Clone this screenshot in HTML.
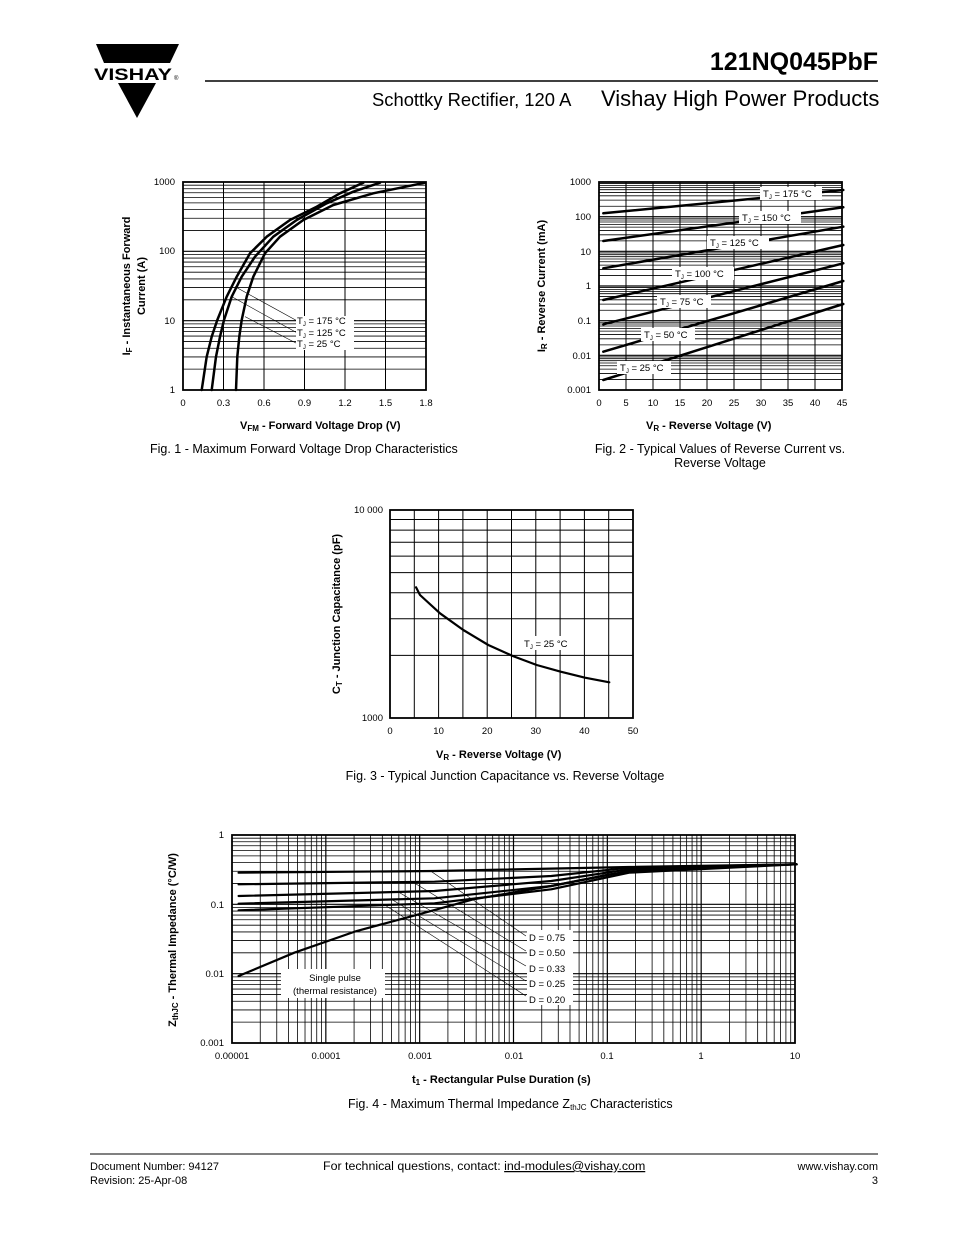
<!DOCTYPE html>
<html><head><meta charset="utf-8"><style>
html,body{margin:0;padding:0;background:#fff;}
svg text{font-family:"Liberation Sans",Arial,sans-serif;fill:#000;}
</style></head><body>
<svg id="s" width="954" height="1235" viewBox="0 0 954 1235" xmlns="http://www.w3.org/2000/svg">
<rect width="954" height="1235" fill="#fff"/>
<!-- Header -->
<polygon points="96,44 179,44 170,63 104,63" fill="#000"/>
<polygon points="118,83 156,83 137,118" fill="#000"/>
<text x="94" y="80" font-size="17" font-weight="bold" textLength="78" lengthAdjust="spacingAndGlyphs">VISHAY</text>
<text x="174" y="80" font-size="6">®</text>
<text x="878" y="70" font-size="25" font-weight="bold" text-anchor="end">121NQ045PbF</text>
<line x1="205" y1="81" x2="878" y2="81" stroke="#000" stroke-width="1.5"/>
<text x="372" y="106" font-size="18.4">Schottky Rectifier, 120 A</text>
<text x="601" y="106" font-size="22">Vishay High Power Products</text>

<g id="g1"></g><g id="g2"></g><g id="g3"></g><g id="g4"></g>

<!-- Fig1 text -->
<g font-size="9.5">
<text x="175" y="185" text-anchor="end">1000</text>
<text x="175" y="254" text-anchor="end">100</text>
<text x="175" y="324" text-anchor="end">10</text>
<text x="175" y="393" text-anchor="end">1</text>
<text x="183" y="406" text-anchor="middle">0</text>
<text x="223.5" y="406" text-anchor="middle">0.3</text>
<text x="264" y="406" text-anchor="middle">0.6</text>
<text x="304.5" y="406" text-anchor="middle">0.9</text>
<text x="345" y="406" text-anchor="middle">1.2</text>
<text x="385.5" y="406" text-anchor="middle">1.5</text>
<text x="426" y="406" text-anchor="middle">1.8</text>
</g>
<g font-size="9.5">
<rect x="296" y="316" width="58" height="34" fill="#fff"/>
<text x="297" y="324">T<tspan font-size="6" dy="2">J</tspan><tspan dy="-2"> = 175 °C</tspan></text>
<text x="297" y="336">T<tspan font-size="6" dy="2">J</tspan><tspan dy="-2"> = 125 °C</tspan></text>
<text x="297" y="347">T<tspan font-size="6" dy="2">J</tspan><tspan dy="-2"> = 25 °C</tspan></text>
</g>
<text x="240" y="429" font-size="11" font-weight="bold">V<tspan font-size="8" dy="2">FM</tspan><tspan dy="-2"> - Forward Voltage Drop (V)</tspan></text>
<text transform="translate(130,286) rotate(-90)" font-size="11" font-weight="bold" text-anchor="middle">I<tspan font-size="8" dy="2">F</tspan><tspan dy="-2"> - Instantaneous Forward</tspan></text>
<text transform="translate(145,286) rotate(-90)" font-size="11" font-weight="bold" text-anchor="middle">Current (A)</text>
<text x="150" y="453" font-size="12.5">Fig. 1 - Maximum Forward Voltage Drop Characteristics</text>

<!-- Fig2 text -->
<g font-size="9.5">
<text x="591" y="185" text-anchor="end">1000</text>
<text x="591" y="220" text-anchor="end">100</text>
<text x="591" y="255" text-anchor="end">10</text>
<text x="591" y="289" text-anchor="end">1</text>
<text x="591" y="324" text-anchor="end">0.1</text>
<text x="591" y="359" text-anchor="end">0.01</text>
<text x="591" y="393" text-anchor="end">0.001</text>
<text x="599" y="406" text-anchor="middle">0</text>
<text x="626" y="406" text-anchor="middle">5</text>
<text x="653" y="406" text-anchor="middle">10</text>
<text x="680" y="406" text-anchor="middle">15</text>
<text x="707" y="406" text-anchor="middle">20</text>
<text x="734" y="406" text-anchor="middle">25</text>
<text x="761" y="406" text-anchor="middle">30</text>
<text x="788" y="406" text-anchor="middle">35</text>
<text x="815" y="406" text-anchor="middle">40</text>
<text x="842" y="406" text-anchor="middle">45</text>
</g>
<text x="646" y="429" font-size="11" font-weight="bold">V<tspan font-size="8" dy="2">R</tspan><tspan dy="-2"> - Reverse Voltage (V)</tspan></text>
<text transform="translate(545,286) rotate(-90)" font-size="11" font-weight="bold" text-anchor="middle">I<tspan font-size="8" dy="2">R</tspan><tspan dy="-2"> - Reverse Current (mA)</tspan></text>
<text x="720" y="453" font-size="12.5" text-anchor="middle">Fig. 2 - Typical Values of Reverse Current vs.</text>
<text x="720" y="467" font-size="12.5" text-anchor="middle">Reverse Voltage</text>

<!-- Fig3 text -->
<g font-size="9.5">
<text x="383" y="513" text-anchor="end">10 000</text>
<text x="383" y="721" text-anchor="end">1000</text>
<text x="390" y="734" text-anchor="middle">0</text>
<text x="438.6" y="734" text-anchor="middle">10</text>
<text x="487.2" y="734" text-anchor="middle">20</text>
<text x="535.8" y="734" text-anchor="middle">30</text>
<text x="584.4" y="734" text-anchor="middle">40</text>
<text x="633" y="734" text-anchor="middle">50</text>
<text x="524" y="647">T<tspan font-size="6" dy="2">J</tspan><tspan dy="-2"> = 25 °C</tspan></text>
</g>
<text x="436" y="758" font-size="11" font-weight="bold">V<tspan font-size="8" dy="2">R</tspan><tspan dy="-2"> - Reverse Voltage (V)</tspan></text>
<text transform="translate(340,614) rotate(-90)" font-size="11" font-weight="bold" text-anchor="middle">C<tspan font-size="8" dy="2">T</tspan><tspan dy="-2"> - Junction Capacitance (pF)</tspan></text>
<text x="505" y="780" font-size="12.5" text-anchor="middle">Fig. 3 - Typical Junction Capacitance vs. Reverse Voltage</text>

<!-- Fig4 text -->
<g font-size="9.5">
<text x="224" y="838" text-anchor="end">1</text>
<text x="224" y="908" text-anchor="end">0.1</text>
<text x="224" y="977" text-anchor="end">0.01</text>
<text x="224" y="1046" text-anchor="end">0.001</text>
<text x="232" y="1059" text-anchor="middle">0.00001</text>
<text x="326" y="1059" text-anchor="middle">0.0001</text>
<text x="420" y="1059" text-anchor="middle">0.001</text>
<text x="514" y="1059" text-anchor="middle">0.01</text>
<text x="607" y="1059" text-anchor="middle">0.1</text>
<text x="701" y="1059" text-anchor="middle">1</text>
<text x="795" y="1059" text-anchor="middle">10</text>
</g>
<g font-size="9.5">
<rect x="281" y="969" width="104" height="29" fill="#fff"/>
<text x="335" y="981" text-anchor="middle">Single pulse</text>
<text x="335" y="994" text-anchor="middle">(thermal resistance)</text>
<rect x="527" y="930" width="46" height="75" fill="#fff"/>
<text x="529" y="941">D = 0.75</text>
<text x="529" y="956">D = 0.50</text>
<text x="529" y="972">D = 0.33</text>
<text x="529" y="987">D = 0.25</text>
<text x="529" y="1003">D = 0.20</text>
</g>
<text x="412" y="1083" font-size="11" font-weight="bold">t<tspan font-size="8" dy="2">1</tspan><tspan dy="-2"> - Rectangular Pulse Duration (s)</tspan></text>
<text transform="translate(176,940) rotate(-90)" font-size="11" font-weight="bold" text-anchor="middle">Z<tspan font-size="8" dy="2">thJC</tspan><tspan dy="-2"> - Thermal Impedance (°C/W)</tspan></text>
<text x="348" y="1108" font-size="12.5">Fig. 4 - Maximum Thermal Impedance Z<tspan font-size="8" dy="2">thJC</tspan><tspan dy="-2"> Characteristics</tspan></text>

<!-- Footer -->
<line x1="90" y1="1154" x2="878" y2="1154" stroke="#000" stroke-width="1"/>
<g font-size="11">
<text x="90" y="1170">Document Number: 94127</text>
<text x="90" y="1184">Revision: 25-Apr-08</text>
<text x="323" y="1170" font-size="12.4">For technical questions, contact: <tspan text-decoration="underline">ind-modules@vishay.com</tspan></text>
<text x="878" y="1170" text-anchor="end">www.vishay.com</text>
<text x="878" y="1184" text-anchor="end">3</text>
</g>
</svg>
<script>
var NS="http://www.w3.org/2000/svg";
function el(g,t,a){var e=document.createElementNS(NS,t);for(var k in a)e.setAttribute(k,a[k]);document.getElementById(g).appendChild(e);return e;}
function ln(g,x1,y1,x2,y2,w){el(g,"line",{x1:x1,y1:y1,x2:x2,y2:y2,stroke:"#000","stroke-width":w||0.8});}
function pl(g,pts,w){el(g,"polyline",{points:pts.map(function(p){return p[0].toFixed(1)+","+p[1].toFixed(1)}).join(" "),fill:"none",stroke:"#000","stroke-width":w||2.5,"stroke-linejoin":"round","stroke-linecap":"round"});}
function loggrid(g,x0,x1,ytop,dec,n,w){for(var d=0;d<n;d++){for(var k=2;k<=9;k++){var y=ytop+(d+1)*dec-dec*Math.log10(k);ln(g,x0,y,x1,y,w);}if(d>0)ln(g,x0,ytop+d*dec,x1,ytop+d*dec,1.2);}}
// Fig1
(function(){var x0=183,x1=426,y0=182,y1=390;loggrid("g1",x0,x1,y0,(y1-y0)/3,3,0.8);
for(var i=1;i<6;i++)ln("g1",x0+i*40.5,y0,x0+i*40.5,y1,1);
el("g1","rect",{x:x0,y:y0,width:x1-x0,height:y1-y0,fill:"none",stroke:"#000","stroke-width":1.8});
function T(a){return a.map(function(p){return[p[0]/3+140,p[1]/3+170]});}
pl("g1",T([[185,660],[200,560],[215,500],[232,450],[260,380],[290,320],[330,250],[380,200],[450,150],[530,110],[600,70],[670,38]]));
pl("g1",T([[215,660],[228,560],[240,500],[252,450],[275,380],[305,320],[345,260],[400,200],[470,150],[560,100],[640,65],[720,38]]));
pl("g1",T([[288,660],[292,560],[298,500],[305,450],[320,380],[340,320],[375,250],[420,200],[490,150],[580,105],[700,70],[855,38]]));
var L=T([[285,350],[470,452],[275,380],[470,488],[315,440],[470,520]]);
for(var j=0;j<6;j+=2)ln("g1",L[j][0],L[j][1],L[j+1][0],L[j+1][1],0.6);
})();
// Fig2
(function(){var x0=599,x1=842,y0=182,y1=390;loggrid("g2",x0,x1,y0,(y1-y0)/6,6,0.8);
for(var i=1;i<9;i++)ln("g2",x0+i*27,y0,x0+i*27,y1,1);
el("g2","rect",{x:x0,y:y0,width:x1-x0,height:y1-y0,fill:"none",stroke:"#000","stroke-width":1.8});
var L=[[130,60],[213,112],[295,170],[390,225],[463,280],[545,333],[630,402]];
L.forEach(function(l){pl("g2",[[130/3+560,l[0]/3+170],[850/3+560,l[1]/3+170]],2.5);});
var labs=[[760,187,"175"],[739,211,"150"],[707,236,"125"],[672,267,"100"],[657,295,"75"],[641,328,"50"],[617,361,"25"]];
labs.forEach(function(b){var w=b[2].length==3?62:54;el("g2","rect",{x:b[0],y:b[1],width:w,height:13,fill:"#fff"});
var t=el("g2","text",{x:b[0]+3,y:b[1]+10,"font-size":9.5});t.innerHTML='T<tspan font-size="6" dy="2">J</tspan><tspan dy="-2"> = '+b[2]+' °C</tspan>';});
})();
// Fig3
(function(){var x0=390,x1=633,y0=510,y1=718;
for(var k=2;k<=9;k++){var y=y1-208*Math.log10(k);ln("g3",x0,y,x1,y,1);}
for(var i=1;i<10;i++)ln("g3",x0+i*24.3,y0,x0+i*24.3,y1,1);
el("g3","rect",{x:x0,y:y0,width:x1-x0,height:y1-y0,fill:"none",stroke:"#000","stroke-width":1.8});
var P=[[228,262],[240,285],[300,340],[370,390],[445,435],[518,468],[590,495],[662,515],[735,533],[808,547]].map(function(p){return[p[0]/3+340,p[1]/3+500]});
el("g3","rect",{x:522,y:636,width:56,height:14,fill:"#fff"});
pl("g3",P,2.2);
})();
// Fig4
(function(){var x0=232,x1=795,y0=835,y1=1043,dx=(x1-x0)/6,dy=(y1-y0)/3;
loggrid("g4",x0,x1,y0,dy,3,0.8);
for(var d=0;d<6;d++){for(var k=2;k<=9;k++){var x=x0+d*dx+dx*Math.log10(k);ln("g4",x,y0,x,y1,0.8);}if(d>0)ln("g4",x0+d*dx,y0,x0+d*dx,y1,1.2);}
el("g4","rect",{x:x0,y:y0,width:x1-x0,height:y1-y0,fill:"none",stroke:"#000","stroke-width":1.8});
function T(a){return a.map(function(p){return[232+(p[0]-80)*dx/241,835+(p[1]-32)/3]});}
pl("g4",T([[97,455],[240,385],[400,320],[560,270],[700,225],[900,185],[1050,150],[1200,130],[1530,120]]),2.2);
pl("g4",T([[97,145],[600,140],[1100,128],[1530,120]]),2.2);
pl("g4",T([[97,180],[600,172],[900,155],[1100,130],[1530,120]]),2.2);
pl("g4",T([[97,215],[600,200],[900,170],[1100,135],[1530,120]]),2.2);
pl("g4",T([[97,238],[600,222],[900,185],[1100,140],[1530,120]]),2.2);
pl("g4",T([[97,258],[600,237],[900,195],[1100,145],[1530,120]]),2.2);
var L=T([[590,140],[835,335],[540,170],[835,380],[510,205],[835,425],[490,225],[835,470],[470,240],[835,515]]);
for(var j=0;j<10;j+=2)ln("g4",L[j][0],L[j][1],L[j+1][0],L[j+1][1],0.6);
})();
</script>
</body></html>
